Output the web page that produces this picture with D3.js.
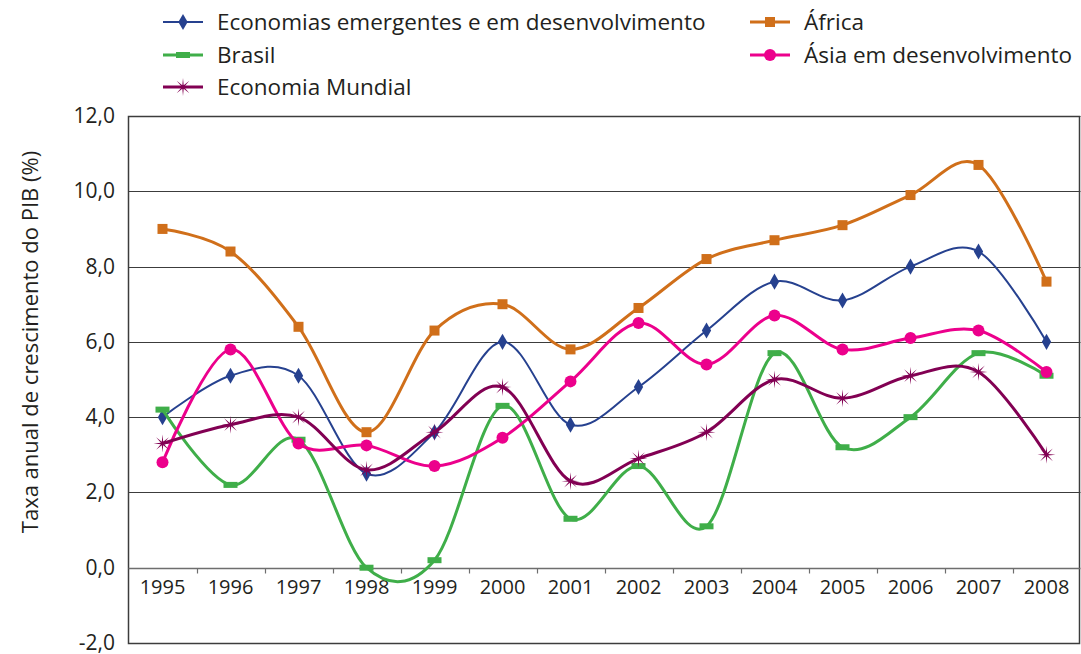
<!DOCTYPE html>
<html>
<head>
<meta charset="utf-8">
<script src="https://cdn.jsdelivr.net/npm/d3@7"></script>
<style>
  body { margin: 0; background: #fff; }
  text { font-family: "Open Sans", sans-serif; fill: #231f20; }
</style>
</head>
<body>
<div id="chart"></div>
<script>
// categories and series
var years = ["1995","1996","1997","1998","1999","2000","2001","2002","2003","2004","2005","2006","2007","2008"];
var emergentes = [4.0, 5.1, 5.1, 2.5, 3.6, 6.0, 3.8, 4.8, 6.3, 7.6, 7.1, 8.0, 8.4, 6.0];
var africa     = [9.0, 8.4, 6.4, 3.6, 6.3, 7.0, 5.8, 6.9, 8.2, 8.7, 9.1, 9.9, 10.7, 7.6];
var brasil     = [4.2, 2.2, 3.4, 0.0, 0.2, 4.3, 1.3, 2.7, 1.1, 5.7, 3.2, 4.0, 5.7, 5.1];
var asia       = [2.8, 5.8, 3.3, 3.25, 2.7, 3.45, 4.95, 6.5, 5.4, 6.7, 5.8, 6.1, 6.3, 5.2];
var mundial    = [3.3, 3.8, 4.0, 2.6, 3.6, 4.8, 2.3, 2.9, 3.6, 5.0, 4.5, 5.1, 5.2, 3.0];
var yTicks = [-2, 0, 2, 4, 6, 8, 10, 12];

var series = [
  {name: "Economias emergentes e em desenvolvimento", values: emergentes, color: "#26418f", width: 2, marker: "diamond"},
  {name: "África", values: africa, color: "#d06f1a", width: 3, marker: "square"},
  {name: "Brasil", values: brasil, color: "#3fae49", width: 3, marker: "dash"},
  {name: "Ásia em desenvolvimento", values: asia, color: "#ec008c", width: 3, marker: "circle"},
  {name: "Economia Mundial", values: mundial, color: "#820053", width: 3, marker: "star"}
];

// plot box (pixels)
var W = 1081, H = 654;
var margin = {left: 128.5, right: 1080.5, top: 116, bottom: 643};

var svg = d3.select("#chart")
  .append("svg")
    .attr("width", W)
    .attr("height", H);

var x = d3.scaleBand()
  .domain(years)
  .range([margin.left, margin.right])
  .padding(0);

var y = d3.scaleLinear()
  .domain([-2, 12])
  .range([margin.bottom, margin.top]);

function cx(d, i) { return x(years[i]) + x.bandwidth() / 2; }

// gridlines
svg.append("g")
  .selectAll("line")
  .data(yTicks.filter(function(t) { return t > 0; }))
  .join("line")
    .attr("x1", margin.left)
    .attr("x2", margin.right)
    .attr("y1", function(d) { return Math.round(y(d)) + 0.5; })
    .attr("y2", function(d) { return Math.round(y(d)) + 0.5; })
    .attr("stroke", "#3c3c3c")
    .attr("stroke-width", 1.2);

// plot frame
svg.append("rect")
  .attr("x", margin.left)
  .attr("y", Math.round(y(12)) + 0.5)
  .attr("width", margin.right - margin.left - 1)
  .attr("height", Math.round(y(-2)) - Math.round(y(12)))
  .attr("fill", "none")
  .attr("stroke", "#3c3c3c")
  .attr("stroke-width", 1.5);

// x axis at zero with ticks between categories
var xAxis = svg.append("g")
  .attr("transform", "translate(0," + (Math.round(y(0)) + 0.5) + ")");
xAxis.append("line")
  .attr("x1", margin.left).attr("x2", margin.right)
  .attr("stroke", "#6e6e6e")
  .attr("stroke-width", 1.5);
xAxis.selectAll("line.tick")
  .data(years.slice(1))
  .join("line")
    .attr("class", "tick")
    .attr("x1", function(d) { return Math.round(x(d)) + 0.5; })
    .attr("x2", function(d) { return Math.round(x(d)) + 0.5; })
    .attr("y1", 0)
    .attr("y2", 5)
    .attr("stroke", "#6e6e6e")
    .attr("stroke-width", 1.2);
xAxis.selectAll("text")
  .data(years)
  .join("text")
    .attr("x", function(d) { return x(d) + x.bandwidth() / 2; })
    .attr("y", 25)
    .attr("text-anchor", "middle")
    .style("font-size", "20px")
    .text(function(d) { return d; });

// y tick labels (plain hyphen and decimal comma)
svg.append("g")
  .selectAll("text")
  .data(yTicks)
  .join("text")
    .attr("x", 115)
    .attr("y", function(d) { return y(d); })
    .attr("dy", "0.33em")
    .attr("text-anchor", "end")
    .style("font-size", "21px")
    .text(function(d) { return d.toFixed(1).replace(".", ","); });

// y axis title
svg.append("text")
  .attr("transform", "translate(38," + 342 + ") rotate(-90)")
  .attr("text-anchor", "middle")
  .style("font-size", "22px")
  .text("Taxa anual de crescimento do PIB (%)");

// markers
function starPath(r, ri, n) {
  var p = [];
  for (var k = 0; k < n * 2; k++) {
    var rr = k % 2 === 0 ? r : ri;
    var a = Math.PI * k / n - Math.PI / 2;
    p.push([rr * Math.cos(a), rr * Math.sin(a)]);
  }
  return "M" + p.map(function(q) { return q.join(","); }).join("L") + "Z";
}

function drawMarker(g, type, color) {
  if (type === "diamond") {
    g.append("path").attr("d", d3.symbol().type(d3.symbolDiamond).size(75)).attr("fill", color);
  } else if (type === "square") {
    g.append("rect").attr("x", -5).attr("y", -5).attr("width", 10).attr("height", 10).attr("fill", color);
  } else if (type === "dash") {
    g.append("rect").attr("x", -7).attr("y", -3).attr("width", 14).attr("height", 6).attr("fill", color);
  } else if (type === "circle") {
    g.append("circle").attr("r", 6).attr("fill", color);
  } else if (type === "star") {
    g.append("path").attr("d", starPath(9, 1.8, 8)).attr("fill", color);
  }
}

var line = d3.line()
  .x(cx)
  .y(function(d) { return y(d); })
  .curve(d3.curveCatmullRom.alpha(0));

series.forEach(function(s) {
  var g = svg.append("g");
  g.append("path")
    .datum(s.values)
    .attr("fill", "none")
    .attr("stroke", s.color)
    .attr("stroke-width", s.width)
    .attr("d", line);
  s.values.forEach(function(v, i) {
    var m = g.append("g").attr("transform", "translate(" + cx(v, i) + "," + y(v) + ")");
    drawMarker(m, s.marker, s.color);
  });
});

// legend
var legendPos = [
  {x: 163, y: 22}, {x: 750, y: 22},
  {x: 163, y: 55}, {x: 750, y: 55},
  {x: 163, y: 87}
];
series.forEach(function(s, i) {
  var p = legendPos[i];
  var g = svg.append("g").attr("transform", "translate(" + p.x + "," + p.y + ")");
  g.append("line")
    .attr("x1", 0).attr("x2", 40)
    .attr("stroke", s.color)
    .attr("stroke-width", s.width);
  var m = g.append("g").attr("transform", "translate(20,0)");
  drawMarker(m, s.marker, s.color);
  g.append("text")
    .attr("x", 54)
    .attr("dy", "0.35em")
    .style("font-size", "22.5px")
    .text(s.name);
});
</script>
</body>
</html>
